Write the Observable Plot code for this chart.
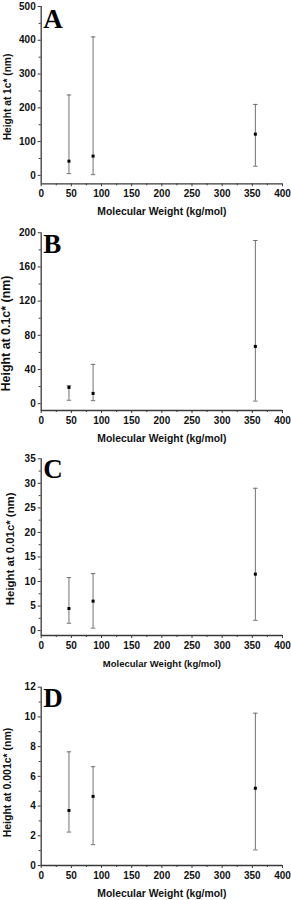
<!DOCTYPE html>
<html>
<head>
<meta charset="utf-8">
<script src="https://cdn.jsdelivr.net/npm/d3@7"></script>
<script src="https://cdn.jsdelivr.net/npm/@observablehq/plot@0.6"></script>
<style>
  html, body { margin: 0; padding: 0; background: #fff; }
  #chart svg { display: block; }
</style>
</head>
<body>
<div id="chart"></div>
<script>
// ---- Data ----
const mw = [46, 86, 355];

const meanA = [42, 57, 122];
const lowA  = [5, 2, 27];
const highA = [238, 410, 210];

const meanB = [19, 12, 67];
const lowB  = [4, 3.5, 3];
const highB = [21, 46, 191];

const meanC = [4.5, 6.0, 11.5];
const lowC  = [1.5, 0.5, 2.1];
const highC = [10.8, 11.6, 29.0];

const meanD = [3.7, 4.65, 5.2];
const lowD  = [2.25, 1.4, 1.05];
const highD = [7.65, 6.65, 10.25];

const xTicks = [0, 50, 100, 150, 200, 250, 300, 350, 400];
const xMinor = [25, 75, 125, 175, 225, 275, 325, 375];

const yTicksA = [0, 100, 200, 300, 400, 500];
const yMinorA = [50, 150, 250, 350, 450];
const yTicksB = [0, 40, 80, 120, 160, 200];
const yMinorB = [20, 60, 100, 140, 180];
const yTicksC = [0, 5, 10, 15, 20, 25, 30, 35];
const yMinorC = [2.5, 7.5, 12.5, 17.5, 22.5, 27.5, 32.5];
const yTicksD = [0, 2, 4, 6, 8, 10, 12];
const yMinorD = [1, 3, 5, 7, 9, 11];

const xTitle = "Molecular Weight (kg/mol)";

const panels = [
  {letter: "A", ylabel: "Height at 1c* (nm)", mean: meanA, low: lowA, high: highA,
   domain: [-25, 500], ticks: yTicksA, minor: yMinorA,
   mt: 6, mb: 41.7, ylx: 7.5, yly: 96.5, ylfs: 10.2, xtfs: 10.4, lty: 9},
  {letter: "B", ylabel: "Height at 0.1c* (nm)", mean: meanB, low: lowB, high: highB,
   domain: [-8, 200], ticks: yTicksB, minor: yMinorB,
   mt: 7.3, mb: 40, ylx: 6, yly: 108, ylfs: 12.4, xtfs: 10.4, lty: 9.3},
  {letter: "C", ylabel: "Height at 0.01c* (nm)", mean: meanC, low: lowC, high: highC,
   domain: [-1, 35], ticks: yTicksC, minor: yMinorC,
   mt: 8.3, mb: 40, ylx: 10, yly: 98.3, ylfs: 11.4, xtfs: 9.5, lty: 9.5},
  {letter: "D", ylabel: "Height at 0.001c* (nm)", mean: meanD, low: lowD, high: highD,
   domain: [0, 12], ticks: yTicksD, minor: yMinorD,
   mt: 11.7, mb: 35, ylx: 7.3, yly: 107, ylfs: 10.5, xtfs: 10.4, lty: 13.5}
];

const capSymbol = {
  draw(context, size) {
    const r = Math.sqrt(size / Math.PI);
    context.moveTo(-r, 0);
    context.lineTo(r, 0);
  }
};

const W = 291, H = 225, ML = 40.7, MR = 9;
const axisColor = "#3a3a3a";
const barColor = "#707070";

const root = document.getElementById("chart");

for (const p of panels) {
  const data = mw.map((x, i) => ({mw: x, mean: p.mean[i], low: p.low[i], high: p.high[i]}));
  const chart = Plot.plot({
    width: W,
    height: H,
    marginLeft: ML,
    marginRight: MR,
    marginTop: p.mt,
    marginBottom: p.mb,
    style: {fontFamily: "'Liberation Sans', Arial, sans-serif", fontWeight: "bold", fontSize: "10px", background: "#fff", color: "#111"},
    x: {domain: [0, 400]},
    y: {domain: p.domain},
    marks: [
      // axis lines
      Plot.ruleX([0], {stroke: axisColor, strokeWidth: 1.3}),
      Plot.ruleY([p.domain[0]], {stroke: axisColor, strokeWidth: 1.3}),
      // x axis
      Plot.axisX({ticks: xTicks, tickSize: 3, tickPadding: 3, tickFormat: d => String(d), label: null, stroke: axisColor, fill: "#111"}),
      Plot.axisX({ticks: xMinor, tickSize: 2, text: null, label: null, stroke: axisColor}),
      // y axis
      Plot.axisY({ticks: p.ticks, tickSize: 3, tickPadding: 2.5, tickFormat: d => String(d), label: null, stroke: axisColor, fill: "#111"}),
      Plot.axisY({ticks: p.minor, tickSize: 2, text: null, label: null, stroke: axisColor}),
      // error bars
      Plot.ruleX(data, {x: "mw", y1: "low", y2: "high", stroke: barColor, strokeWidth: 1}),
      Plot.dot(data, {x: "mw", y: "low", symbol: capSymbol, r: 2.2, stroke: barColor, strokeWidth: 1, fill: "none"}),
      Plot.dot(data, {x: "mw", y: "high", symbol: capSymbol, r: 2.2, stroke: barColor, strokeWidth: 1, fill: "none"}),
      // means
      Plot.dot(data, {x: "mw", y: "mean", symbol: "square", r: 1.7, fill: "#000", stroke: "none"}),
      // panel letter
      Plot.text([p.letter], {frameAnchor: "top-left", textAnchor: "start", lineAnchor: "top",
        dx: 2, dy: p.lty - p.mt - 1, fontFamily: "'Liberation Serif', 'Times New Roman', serif",
        fontWeight: "bold", fontSize: 27, fill: "#000"}),
      // y title
      Plot.text([p.ylabel], {frameAnchor: "top-left", rotate: -90, textAnchor: "middle", lineAnchor: "middle",
        dx: p.ylx - ML, dy: p.yly - p.mt, fontSize: p.ylfs, fontWeight: "bold", fill: "#111"}),
      // x title
      Plot.text([xTitle], {frameAnchor: "bottom", textAnchor: "middle", lineAnchor: "middle",
        dy: 28, fontSize: p.xtfs, fontWeight: "bold", fill: "#111"})
    ]
  });
  root.appendChild(chart);
}
</script>
</body>
</html>
